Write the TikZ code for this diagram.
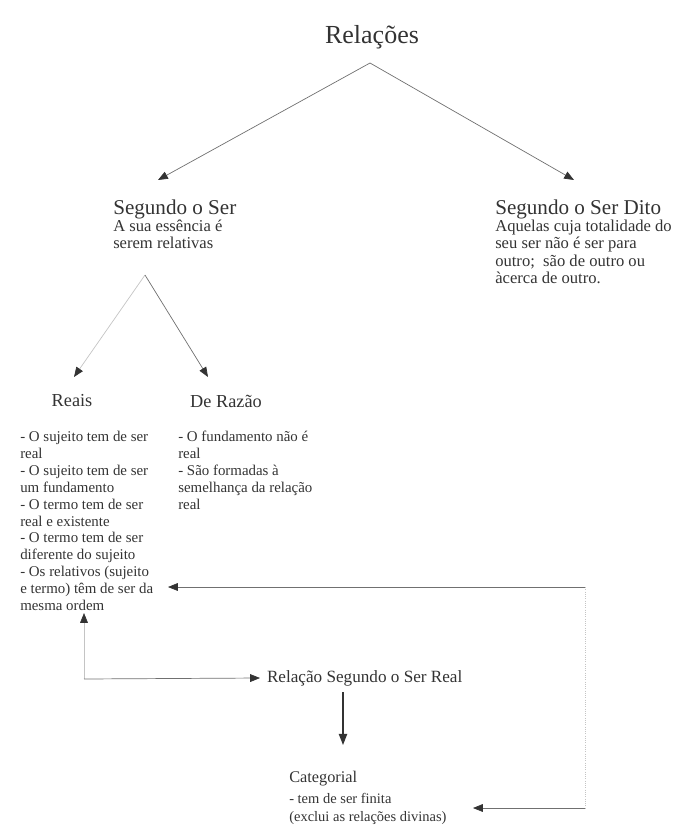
\documentclass[tikz,border=0pt]{standalone}
\usepackage{fontspec}
\setmainfont{Liberation Serif}
\definecolor{ink}{HTML}{333333}
\definecolor{wire}{HTML}{707070}
\definecolor{faint}{HTML}{C4C4C4}
\usetikzlibrary{arrows.meta, positioning}

\begin{document}
\begin{tikzpicture}[x=0.025cm, y=-0.025cm,
  every node/.style={text=ink, inner sep=0pt},
  head/.style={font=\fontsize{15}{18}\selectfont},
  desc/.style={font=\fontsize{11.8}{12.2}\selectfont, align=left, anchor=north west},
  small/.style={font=\fontsize{10.6}{12}\selectfont, align=left, anchor=north west},
  link/.style={draw=wire, line width=0.5pt, -{Triangle[length=7pt, width=5.5pt, color=ink]}},
  bold link/.style={draw=ink, line width=1pt, -{Triangle[length=8pt, width=6pt, color=ink]}}]

  \useasboundingbox (0,0) rectangle (690,828);

  % Top level
  \node[font=\fontsize{18.5}{22}\selectfont] (rel) at (372,37) {Relações};
  \coordinate (apex) at (370,63);

  \node[head, anchor=west] (segser) at (113,209) {Segundo o Ser};
  \node[desc] (segdesc) at (113,220) {A sua essência é\\serem relativas};
  \node[head, anchor=west] (dito) at (495,209) {Segundo o Ser Dito};
  \node[desc] (ditodesc) at (495,220)
    {Aquelas cuja totalidade do\\seu ser não é ser para\\outro;\ \ são de outro ou\\àcerca de outro.};

  \coordinate (segtip) at (158,180);
  \coordinate (ditotip) at (574,180);
  \draw[link] (apex) -- (segtip);
  \draw[link] (apex) -- (ditotip);

  % Reais / De Razao
  \coordinate (apex2) at (145,275);
  \coordinate (reaistip) at (74,377);
  \coordinate (razaotip) at (208,377);
  \draw[link, draw=faint] (apex2) -- (reaistip);
  \draw[link] (apex2) -- (razaotip);

  \node[font=\fontsize{13}{15}\selectfont] (reais) at (72,401) {Reais};
  \node[font=\fontsize{13}{15}\selectfont] (razao) at (226,401) {De Razão};

  \node[small] (reaislist) at (20,431)
    {- O sujeito tem de ser\\real\\- O sujeito tem de ser\\um fundamento\\- O termo tem de ser\\real e existente\\- O termo tem de ser\\diferente do sujeito\\- Os relativos (sujeito\\e termo) têm de ser da\\mesma ordem};
  \node[small] (razaolist) at (178,431)
    {- O fundamento não é\\real\\- São formadas à\\semelhança da relação\\real};

  % Relacao segundo o ser real
  \node[font=\fontsize{12.2}{14}\selectfont, anchor=west, outer sep=5pt] (relreal) at (260,678)
    {Relação Segundo o Ser Real};
  \coordinate (loop) at (84,679);
  \coordinate (uptip) at (84,613);
  \draw[link, draw=faint] (loop) -- (uptip);
  \draw[link] (loop) -- (relreal.west);

  \node[font=\fontsize{11.6}{14}\selectfont, anchor=west] (categ) at (289,779) {Categorial};
  \node[font=\fontsize{10.3}{12.8}\selectfont, align=left, anchor=north west] (categdesc) at (289,793)
    {- tem de ser finita\\(exclui as relações divinas)};
  \coordinate (downtop) at (343,692);
  \coordinate (downtip) at (343,745);
  \draw[bold link] (downtop) -- (downtip);

  % Right-hand return line
  \coordinate (rtop) at (585,587);
  \coordinate (rbot) at (585,808);
  \coordinate (listtip) at (168,587);
  \coordinate (categtip) at (473,808);
  \draw[faint, densely dotted, line width=0.6pt] (rtop) -- (rbot);
  \draw[link] (rtop) -- (listtip);
  \draw[link] (rbot) -- (categtip);
\end{tikzpicture}
\end{document}
